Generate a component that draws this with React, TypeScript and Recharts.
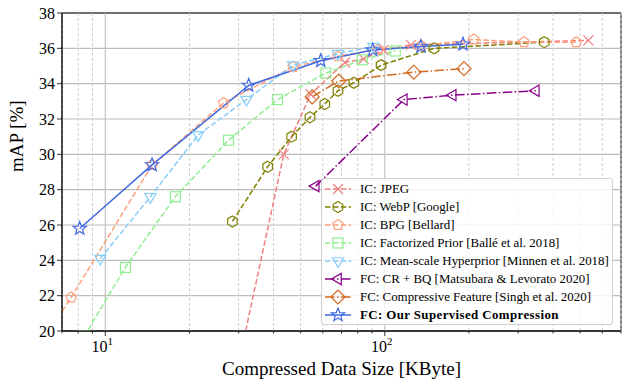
import React from "react"
import {
  CartesianGrid,
  Line,
  LineChart,
  ReferenceArea,
  ReferenceLine,
  XAxis,
  YAxis,
} from "recharts"

const FONT = "'Liberation Serif', 'DejaVu Serif', serif"

// compressed data size [KByte] and mAP [%] per method
const jpegSize = [30.5, 43.5, 54.3, 72, 84, 99, 124, 535]
const jpegMap = [18.7, 30.0, 33.4, 35.2, 35.4, 35.9, 36.2, 36.45]

const webpSize = [28.5, 38.1, 46.4, 54, 61, 68, 77.5, 97, 150, 372]
const webpMap = [26.2, 29.3, 31.0, 32.1, 32.85, 33.6, 34.05, 35.05, 36.0, 36.35]

const bpgSize = [6.3, 7.55, 14.7, 26.5, 47, 68, 95, 135, 208, 315, 484]
const bpgMap = [20.0, 21.9, 29.4, 32.9, 34.95, 35.55, 35.95, 36.15, 36.5, 36.35, 36.35]

const factSize = [8.4, 11.8, 17.8, 27.6, 41.3, 61.5, 83, 109]
const factMap = [19.7, 23.6, 27.6, 30.8, 33.1, 34.6, 35.35, 35.85]

const hyperSize = [9.6, 14.5, 21.5, 32, 47, 68, 91]
const hyperMap = [24.1, 27.6, 31.1, 33.1, 35.05, 35.7, 36.1]

const crbqSize = [56.6, 117, 175, 347]
const crbqMap = [28.2, 33.1, 33.35, 33.6]

const cfSize = [55, 68.4, 127, 192]
const cfMap = [33.25, 34.15, 34.65, 34.85]

const oursSize = [8.1, 14.7, 32.6, 59, 90.6, 134.6, 190.5]
const oursMap = [25.8, 29.4, 33.9, 35.3, 35.9, 36.1, 36.23]

const yTicks = [20, 22, 24, 26, 28, 30, 32, 34, 36, 38]
const xMajor = [10, 100]
const xMinor = [7, 8, 9, 20, 30, 40, 50, 60, 70, 80, 90, 200, 300, 400, 500, 600, 700]

const zip = (xs: number[], ys: number[]) => xs.map((x, i) => ({ x, y: ys[i] }))

const DASH = "5.5 2.4"
const DASHDOT = "9.6 2.4 1.5 2.4"

type Kind = "x" | "hex" | "pent" | "square" | "vtri" | "ltri" | "diamond" | "star"

const series = [
  { name: "IC: JPEG", color: "#F08080", kind: "x" as Kind, dash: DASH, data: zip(jpegSize, jpegMap) },
  { name: "IC: WebP [Google]", color: "#808000", kind: "hex" as Kind, dash: DASH, data: zip(webpSize, webpMap) },
  { name: "IC: BPG [Bellard]", color: "#FFA07A", kind: "pent" as Kind, dash: DASH, data: zip(bpgSize, bpgMap) },
  { name: "IC: Factorized Prior [Ballé et al. 2018]", color: "#90EE90", kind: "square" as Kind, dash: DASH, data: zip(factSize, factMap) },
  { name: "IC: Mean-scale Hyperprior [Minnen et al. 2018]", color: "#87CEFA", kind: "vtri" as Kind, dash: DASH, data: zip(hyperSize, hyperMap) },
  { name: "FC: CR + BQ [Matsubara & Levorato 2020]", color: "#8B008B", kind: "ltri" as Kind, dash: DASHDOT, data: zip(crbqSize, crbqMap) },
  { name: "FC: Compressive Feature [Singh et al. 2020]", color: "#D2691E", kind: "diamond" as Kind, dash: DASHDOT, data: zip(cfSize, cfMap) },
  { name: "FC: Our Supervised Compression", color: "#4169E1", kind: "star" as Kind, dash: undefined, data: zip(oursSize, oursMap), bold: true },
]

const poly = (cx: number, cy: number, n: number, r: number, rot: number) =>
  Array.from({ length: n }, (_, i) => {
    const a = rot + (i * 2 * Math.PI) / n
    return `${cx + r * Math.cos(a)},${cy + r * Math.sin(a)}`
  }).join(" ")

function Marker({ kind, cx, cy, color }: { kind: Kind; cx: number; cy: number; color: string }) {
  const common = { fill: "none", stroke: color, strokeWidth: 1.2 }
  const up = -Math.PI / 2
  switch (kind) {
    case "x":
      return (
        <g {...common}>
          <line x1={cx - 5} y1={cy - 5} x2={cx + 5} y2={cy + 5} />
          <line x1={cx - 5} y1={cy + 5} x2={cx + 5} y2={cy - 5} />
        </g>
      )
    case "hex":
      return <polygon points={poly(cx, cy, 6, 5.5, up)} {...common} />
    case "pent":
      return <polygon points={poly(cx, cy, 5, 5.5, up)} {...common} />
    case "square":
      return <rect x={cx - 5} y={cy - 5} width={10} height={10} {...common} />
    case "vtri":
      return <polygon points={poly(cx, cy, 3, 6.5, Math.PI / 2)} {...common} />
    case "ltri":
      return <polygon points={poly(cx, cy, 3, 6.5, Math.PI)} {...common} />
    case "diamond":
      return <polygon points={poly(cx, cy, 4, 7, up)} {...common} />
    case "star": {
      const pts = Array.from({ length: 10 }, (_, i) => {
        const r = i % 2 === 0 ? 7 : 3
        const a = up + (i * Math.PI) / 5
        return `${cx + r * Math.cos(a)},${cy + r * Math.sin(a)}`
      }).join(" ")
      return <polygon points={pts} {...common} />
    }
  }
  return null
}

const XTick = (props: any) => {
  const { x, y, payload } = props
  const v = payload.value
  const major = v === 10 || v === 100
  return (
    <g>
      <line x1={x} x2={x} y1={y} y2={y + (major ? 5 : 2.5)} stroke="#000" strokeWidth={0.8} />
      {major && (
        <text x={x - 3} y={y + 21} textAnchor="middle" fontSize={16} fontFamily={FONT} fill="#000">
          10
          <tspan dy={-7} fontSize={11}>
            {v === 10 ? "1" : "2"}
          </tspan>
        </text>
      )}
    </g>
  )
}

const YTick = (props: any) => {
  const { x, y, payload } = props
  return (
    <g>
      <line x1={x - 5} x2={x} y1={y} y2={y} stroke="#000" strokeWidth={0.8} />
      <text x={x - 7} y={y + 5.5} textAnchor="end" fontSize={16} fontFamily={FONT} fill="#000">
        {payload.value}
      </text>
    </g>
  )
}

function LegendBox() {
  return (
    <div
      style={{
        position: "absolute",
        left: 321,
        top: 178,
        width: 292,
        height: 147,
        background: "rgba(255,255,255,0.8)",
        border: "1px solid #d0d0d0",
        borderRadius: 3,
        fontFamily: FONT,
        fontSize: 12.9,
        boxSizing: "border-box",
      }}
    >
      {series.map((s, i) => (
        <div
          key={s.name}
          style={{
            position: "absolute",
            left: 3,
            top: 1 + i * 18,
            height: 18,
            display: "flex",
            alignItems: "center",
            whiteSpace: "nowrap",
            fontWeight: s.bold ? "bold" : "normal",
            letterSpacing: s.bold ? 0.4 : 0,
          }}
        >
          <svg width={26} height={16} style={{ marginRight: 9 }}>
            <line x1={0} x2={26} y1={8} y2={8} stroke={s.color} strokeWidth={1.5} strokeDasharray={s.dash} />
            <Marker kind={s.kind} cx={13} cy={8} color={s.color} />
          </svg>
          {s.name}
        </div>
      ))}
    </div>
  )
}

export default function App() {
  return (
    <div style={{ position: "absolute", left: 0, top: 0, width: 623, height: 381, background: "#fff" }}>
      <LineChart width={623} height={381} margin={{ top: 13, right: 2, left: 0, bottom: 0 }}>
        <CartesianGrid vertical={false} stroke="#bdbdbd" strokeWidth={1.1} />
        <XAxis
          type="number"
          dataKey="x"
          scale="log"
          domain={[7, 700]}
          allowDataOverflow
          ticks={[...xMinor, ...xMajor].sort((a, b) => a - b)}
          interval={0}
          tick={<XTick />}
          tickLine={false}
          tickSize={0}
          tickMargin={0}
          axisLine={{ stroke: "#000", strokeWidth: 1 }}
          height={50}
          label={{
            value: "Compressed Data Size [KByte]",
            position: "insideBottom",
            offset: 6,
            fontSize: 19,
            fontFamily: FONT,
            fill: "#000",
          }}
        />
        <YAxis
          type="number"
          dataKey="y"
          domain={[20, 38]}
          allowDataOverflow
          ticks={yTicks}
          interval={0}
          tick={<YTick />}
          tickLine={false}
          tickSize={0}
          tickMargin={0}
          axisLine={{ stroke: "#000", strokeWidth: 1 }}
          width={62}
          label={{
            value: "mAP [%]",
            angle: -90,
            position: "insideLeft",
            offset: 16,
            fontSize: 19,
            fontFamily: FONT,
            fill: "#000",
          }}
        />
        {xMinor.map((v) => (
          <ReferenceLine key={"m" + v} x={v} stroke="#c8c8c8" strokeWidth={0.9} strokeDasharray="3 2" />
        ))}
        {xMajor.map((v) => (
          <ReferenceLine key={"M" + v} x={v} stroke="#bdbdbd" strokeWidth={1.1} />
        ))}
        {series.map((s) => (
          <Line
            key={s.name}
            data={s.data}
            dataKey="y"
            type="linear"
            stroke={s.color}
            strokeWidth={1.5}
            strokeDasharray={s.dash}
            isAnimationActive={false}
            activeDot={false}
            dot={(p: any) => <Marker key={p.index} kind={s.kind} cx={p.cx} cy={p.cy} color={s.color} />}
          />
        ))}
        <ReferenceArea x1={7} x2={700} y1={20} y2={38} fill="none" fillOpacity={0} stroke="#000" strokeWidth={1} />
      </LineChart>
      <LegendBox />
    </div>
  )
}
